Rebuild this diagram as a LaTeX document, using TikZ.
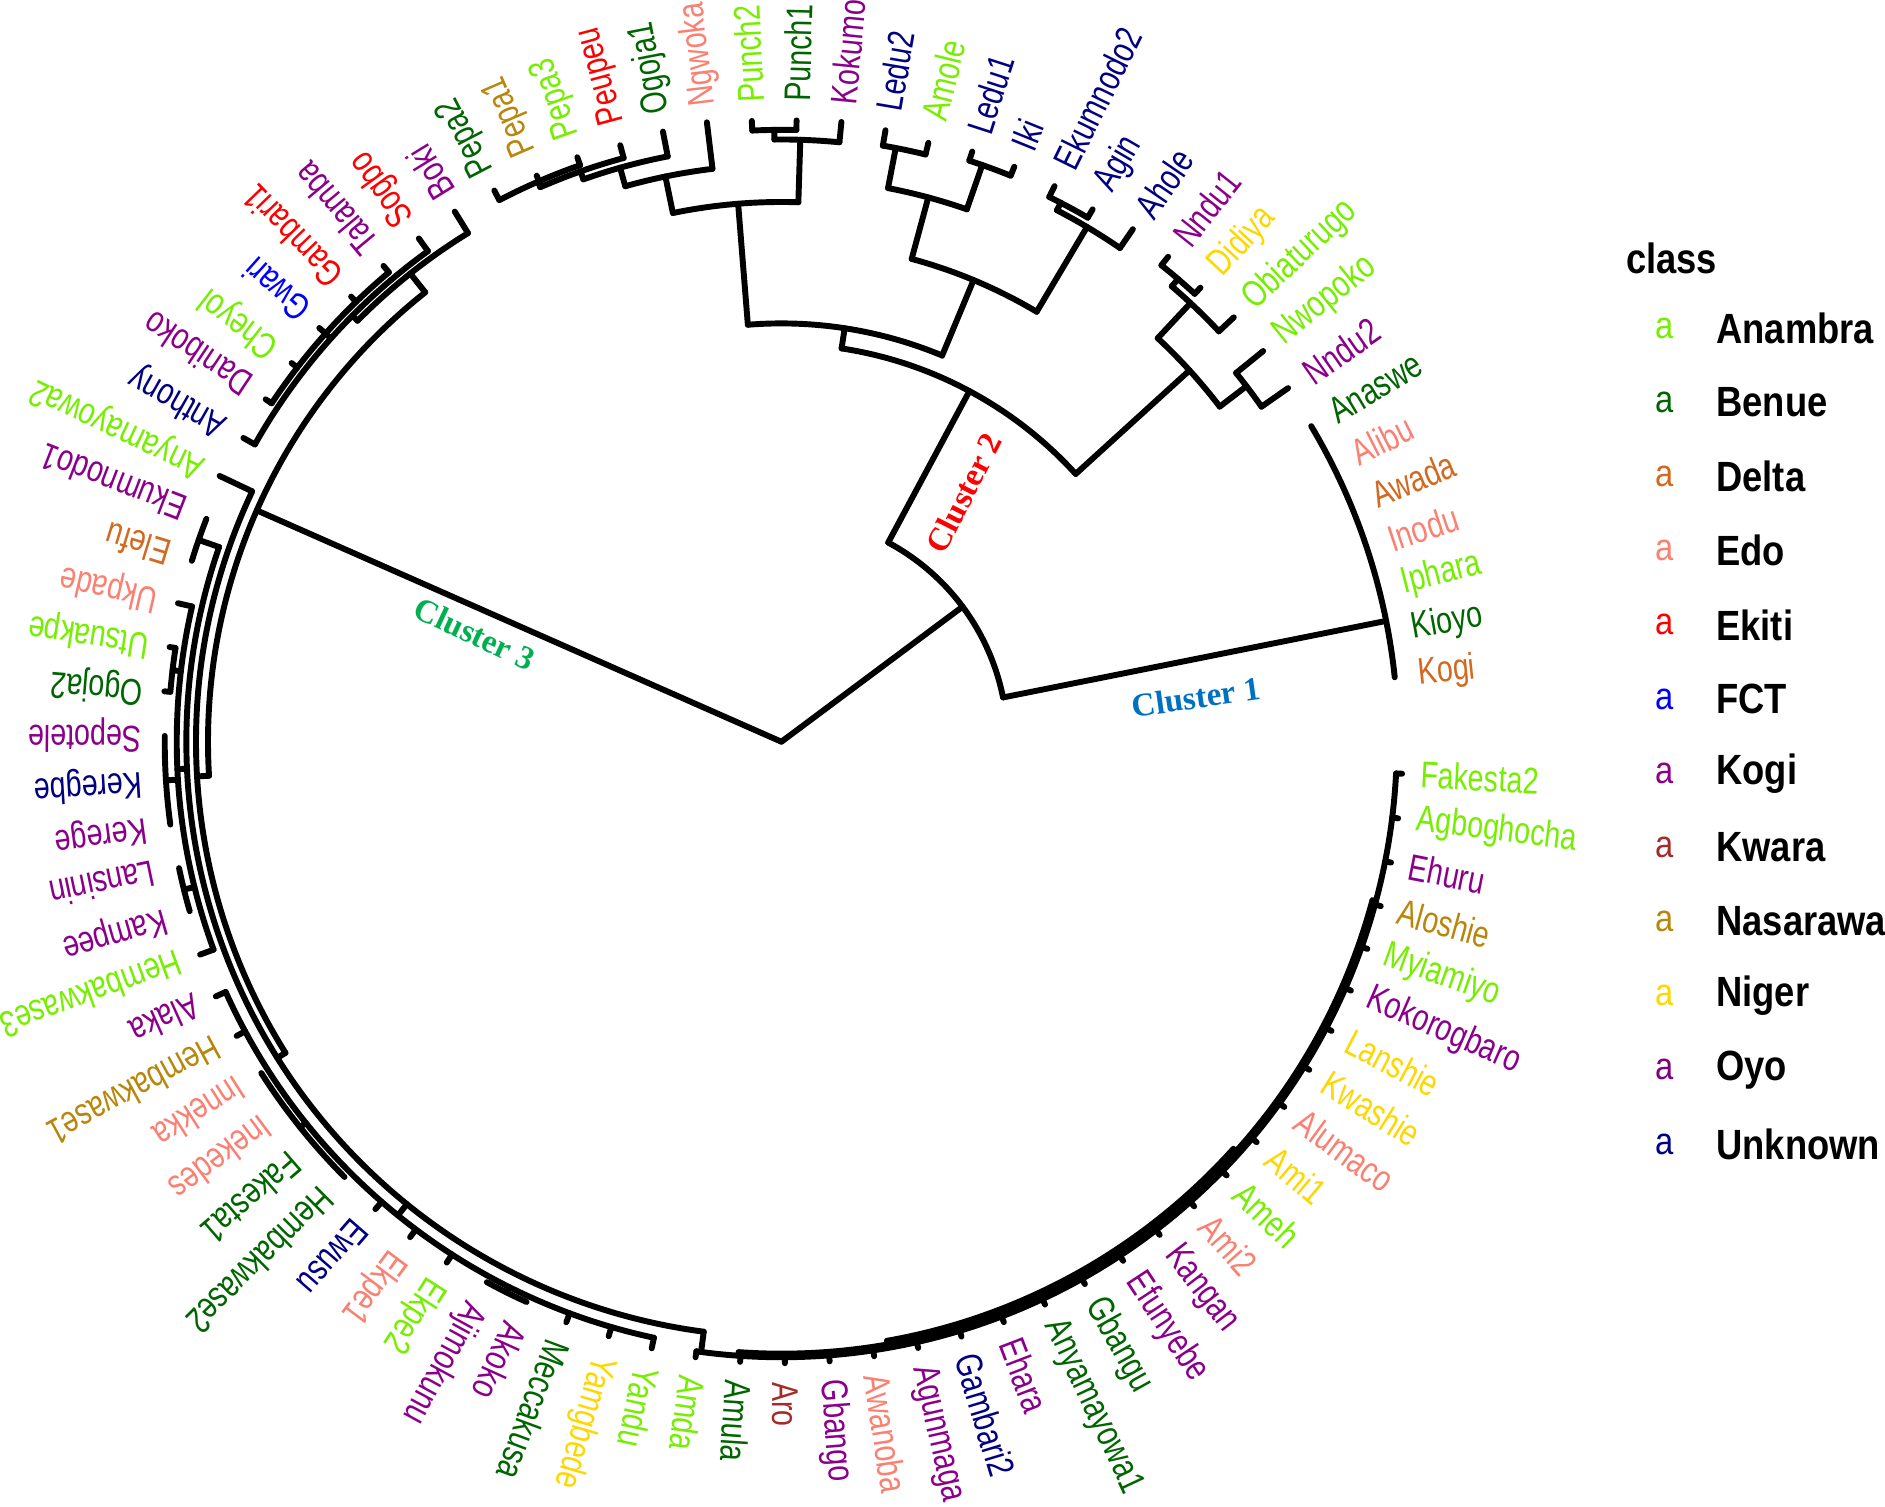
\documentclass[tikz,border=0pt]{standalone}
\usepackage{fontspec}
\setmainfont{Liberation Sans}
\newfontfamily\clusterfont{Liberation Serif}
\usetikzlibrary{positioning}
\definecolor{ana}{RGB}{118,238,0}
\definecolor{ben}{RGB}{0,100,0}
\definecolor{del}{RGB}{210,105,30}
\definecolor{edo}{RGB}{250,128,114}
\definecolor{eki}{RGB}{255,0,0}
\definecolor{fct}{RGB}{0,0,255}
\definecolor{kog}{RGB}{139,0,139}
\definecolor{kwa}{RGB}{165,42,42}
\definecolor{nas}{RGB}{184,134,11}
\definecolor{nig}{RGB}{255,215,0}
\definecolor{oyo}{RGB}{128,0,128}
\definecolor{unk}{RGB}{0,0,128}
\definecolor{clone}{RGB}{0,112,192}
\definecolor{cltwo}{RGB}{255,0,0}
\definecolor{clthree}{RGB}{0,176,80}
% radial segment: angle, inner radius, outer radius
\newcommand{\brad}[3]{\draw[br] (#1:#2) -- (#1:#3);}
% arc: radius, start angle, end angle
\newcommand{\barc}[3]{\draw[br] (#2:#1) arc[start angle=#2, end angle=#3, radius=#1];}

\begin{document}
\begin{tikzpicture}[
    x=0.01cm, y=0.01cm,
    br/.style={line width=1.4pt, line cap=round, line join=round},
    tiplab/.style={anchor=west, inner sep=0pt, font=\fontsize{8.8}{10}\selectfont},
    cluster/.style={inner sep=0pt, font=\clusterfont\bfseries\fontsize{7.8}{9}\selectfont},
    legkey/.style={inner sep=0pt, font=\fontsize{9}{10}\selectfont},
    legname/.style={anchor=west, inner sep=0pt, font=\bfseries\fontsize{10}{12}\selectfont}
]
\path[use as bounding box] (0,0) rectangle (1568,1253);

\begin{scope}[shift={(650,636)}]
\coordinate (root) at (0,0);
\coordinate (nA) at (36.7:188);
\coordinate (nC3) at (156.2:477);

% Tip labels
\foreach \lab/\col [count=\i from 0] in {Kogi/del, Kioyo/ben, Iphara/ana, Inodu/edo, Awada/del, Alibu/edo, Anaswe/ben, Nndu2/kog, Nwopoko/ana, Obiaturugo/ana, Didiya/nig, Nndu1/kog, Ahole/unk, Agin/unk, Ekumnodo2/unk, Iki/unk, Ledu1/unk, Amole/ana, Ledu2/unk, Kokumo/kog, Punch1/ben, Punch2/ana, Ngwoka/edo, Ogoja1/ben, Peupeu/eki, Pepa3/ana, Pepa1/nas, Pepa2/ben, Boki/kog, Sogbo/eki, Talamba/kog, Gambari1/eki, Gwari/fct, Cheyol/ana, Daniboko/kog, Anthony/unk, Anyamayowa2/ana, Ekumnodo1/kog, Elefu/del, Ukpade/edo, Utsuakpe/ana, Ogoja2/ben, Sepotele/kog, Keregbe/unk, Kerege/kog, Lansinin/kog, Kampee/kog, Hembakwase3/ana, Alaka/kog, Hembakwase1/nas, Innekka/edo, Inekedes/edo, Fakesta1/ben, Hembakwase2/ben, Ewusu/unk, Ekpe1/edo, Ekpe2/ana, Ajimokunu/kog, Akoko/kog, Meccakusa/ben, Yamgbede/nig, Yandu/ana, Amda/ana, Amula/ben, Aro/kwa, Gbango/kog, Awanoba/edo, Agunmaga/kog, Gambari2/unk, Ehara/kog, Anyamayowa1/ben, Gbangu/ben, Efunyebe/kog, Kangan/kog, Ami2/edo, Ameh/ana, Ami1/nig, Alumaco/edo, Kwashie/nig, Lanshie/nig, Kokorogbaro/kog, Myiamiyo/ana, Aloshie/nas, Ehuru/kog, Agboghocha/ana, Fakesta2/ana}
{
  \pgfmathsetmacro{\a}{6+4.13*\i}
  \node[tiplab, text=\col, rotate=\a] (tip\i) at (\a:532) {\scalebox{0.77}[1]{\lab}};
}

% Root
\draw[br] (root) -- (nA);
\draw[br] (root) -- (nC3);
\barc{188}{11.3}{61.8}

% Cluster 1
\brad{11.3}{188}{513}
\barc{513}{6.0}{30.78}

% Cluster 2
\brad{61.8}{188}{331}
\barc{331}{42.3}{81.3}
\brad{42.3}{331}{459}
\barc{459}{37.4}{47.0}
\brad{47.0}{459}{499}
\barc{499}{43.17}{49.4}
\brad{43.17}{499}{516}
\brad{49.4}{499}{507}
\barc{507}{47.3}{51.43}
\brad{47.3}{507}{514}
\brad{51.43}{507}{516}
\brad{37.4}{459}{487}
\barc{487}{34.91}{39.04}
\brad{34.91}{487}{514}
\brad{39.04}{487}{516}
\brad{81.3}{331}{348}
\barc{348}{67.4}{94.6}
\brad{67.4}{348}{416}
\barc{416}{59.3}{74.9}
\brad{59.3}{416}{498}
\barc{498}{55.56}{62.6}
\brad{55.56}{498}{517}
\brad{62.6}{498}{505}
\barc{505}{59.69}{63.82}
\brad{59.69}{505}{513}
\brad{63.82}{505}{515}
\brad{74.9}{416}{469}
\barc{469}{70.8}{79.1}
\brad{70.8}{469}{508}
\barc{508}{67.95}{72.08}
\brad{67.95}{508}{516}
\brad{72.08}{508}{516}
\brad{79.1}{469}{503}
\barc{503}{76.21}{80.34}
\brad{76.21}{503}{513}
\brad{80.34}{503}{516}
\brad{94.6}{348}{449}
\barc{449}{88.2}{101.6}
\brad{88.2}{449}{501}
\barc{501}{84.47}{90.67}
\brad{84.47}{501}{518}
\brad{90.67}{501}{509}
\barc{509}{88.6}{92.73}
\brad{88.6}{509}{517}
\brad{92.73}{509}{517}
\brad{101.6}{449}{480}
\barc{480}{96.86}{105.7}
\brad{96.86}{480}{519}
\brad{105.7}{480}{496}
\barc{496}{100.99}{109.4}
\brad{100.99}{496}{517}
\brad{109.4}{496}{503}
\barc{503}{105.12}{113.5}
\brad{105.12}{503}{514}
\brad{113.5}{503}{508}
\barc{508}{109.25}{117.51}
\brad{109.25}{508}{515}
\brad{113.38}{508}{513}
\brad{117.51}{508}{517}

% Cluster 3, upper part
\barc{477}{128.4}{183.4}
\brad{128.4}{477}{497}
\barc{497}{121.64}{135.2}
\brad{121.64}{497}{518}
\brad{135.2}{497}{503}
\barc{503}{125.77}{150.55}
\brad{125.77}{503}{516}
\brad{138.16}{503}{509}
\barc{509}{129.9}{146.42}
\brad{129.9}{509}{516}
\brad{134.03}{509}{515}
\brad{138.16}{509}{516}
\brad{142.29}{509}{515}
\brad{146.42}{509}{515}
\brad{150.55}{503}{514}

% Cluster 3, left part
\brad{183.4}{477}{487}
\barc{487}{154.68}{212.1}
\brad{154.68}{487}{517}
\brad{212.1}{487}{495}
\barc{495}{160.9}{262.5}
\brad{160.9}{495}{513}
\barc{513}{158.81}{162.94}
\brad{182.6}{495}{503}
\barc{503}{167.07}{200.11}
\brad{167.07}{503}{515}
\brad{173.3}{503}{510}
\barc{510}{171.2}{175.33}
\brad{171.2}{510}{515}
\brad{175.33}{510}{515}
\brad{183.59}{503}{513}
\barc{513}{179.46}{187.72}
\brad{193.9}{503}{512}
\barc{512}{191.85}{195.98}
\brad{200.11}{503}{515}

% Cluster 3, bottom part
\brad{231}{495}{507}
\barc{507}{204.24}{257.93}
\brad{204.24}{507}{516}
\brad{208.37}{507}{515}
\brad{218.7}{507}{513}
\barc{513}{212.5}{224.89}
\brad{229.02}{507}{515}
\brad{233.15}{507}{515}
\brad{237.28}{507}{515}
\brad{243.5}{507}{512}
\barc{512}{241.41}{245.54}
\brad{249.67}{507}{515}
\brad{253.8}{507}{515}
\brad{257.93}{507}{516}

% Cluster 3, right part
\brad{262.5}{495}{512}
\barc{512}{262.06}{357.05}
\barc{509}{266}{345}
\barc{506}{280}{318}
\brad{266}{509}{512}
\brad{280}{506}{509}
\foreach \k in {62,...,85}
  {\pgfmathsetmacro{\b}{6+4.13*\k}
   \brad{\b}{512}{517}}

% Cluster labels
\node[cluster, text=clone, rotate=8] (lab1) at (345,37) {Cluster 1};
\node[cluster, text=cltwo, rotate=63] (lab2) at (152,207) {Cluster 2};
\node[cluster, text=clthree, rotate=-25] (lab3) at (-255,90) {Cluster 3};
\end{scope}

% Legend
\node[legname, anchor=west] (legtitle) at (1352,1038) {\scalebox{0.86}[1]{class}};
\foreach \nm/\col [count=\j from 0] in {Anambra/ana, Benue/ben, Delta/del, Edo/edo, Ekiti/eki, FCT/fct, Kogi/kog, Kwara/kwa, Nasarawa/nas, Niger/nig, Oyo/oyo, Unknown/unk}
{
  \pgfmathsetmacro{\yy}{980-61.7*\j}
  \node[legkey, text=\col] (key\j) at (1385,\yy) {\scalebox{0.86}[1]{a}};
  \node[legname] (leg\j) at (1427,\yy) {\scalebox{0.86}[1]{\nm}};
}
\end{tikzpicture}
\end{document}
